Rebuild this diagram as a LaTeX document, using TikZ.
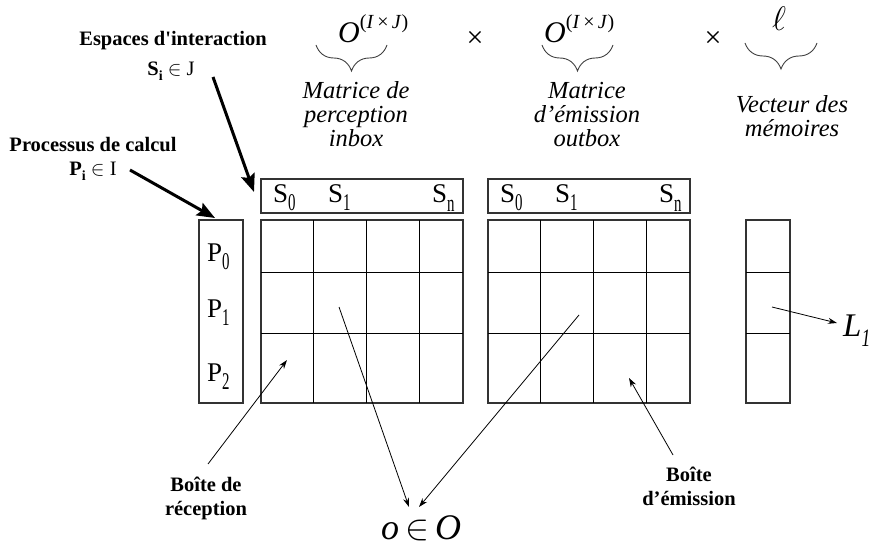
\RequirePackage{fix-cm}
\documentclass[tikz,border=0pt]{standalone}
\usepackage{fontspec}
\setmainfont{Liberation Serif}
\usetikzlibrary{positioning,arrows.meta,calc,decorations.pathreplacing}
% tall, narrow indices as in the matrices
\newcommand{\idx}[2][8pt]{\raisebox{-#1}{\scalebox{0.62}[1]{\fontsize{24}{24}\selectfont #2}}}
\newcommand{\sidx}[1]{\raisebox{-5pt}{\fontsize{14}{14}\selectfont #1}}

\begin{document}
\begin{tikzpicture}[x=1pt,y=-1pt,
    tag/.style={font=\fontsize{20.5}{24}\selectfont\bfseries,inner sep=0pt,anchor=base},
    role/.style={font=\fontsize{24.5}{24}\selectfont\itshape,align=center,inner sep=0pt,anchor=base},
    sym/.style={font=\fontsize{27}{27}\selectfont,inner sep=0pt,anchor=base west},
    big/.style={font=\fontsize{30}{30}\selectfont,inner sep=0pt},
    frame/.style={draw=black!80,line width=1.2pt},
    cell/.style={draw=black,line width=0.9pt},
    fat/.style={line width=3pt,-{Stealth[length=18pt,width=14pt,inset=3pt]}},
    slim/.style={line width=0.8pt,-{Stealth[length=9pt,width=6pt]}},
    curly/.style={draw=black!75,line width=0.9pt,decorate,decoration={brace,mirror,amplitude=26pt}}]
  \useasboundingbox (0,0) rectangle (876,545);
  % product formula on top
  \node[big,anchor=base west] (oin) at (338,43) {\textit{O}\raisebox{14pt}{\fontsize{20}{20}\selectfont(\textit{I}\,×\,\textit{J})}};
  \node[big] (x1) at (475,39) {×};
  \node[big,anchor=base west] (oout) at (544,43) {\textit{O}\raisebox{14pt}{\fontsize{20}{20}\selectfont(\textit{I}\,×\,\textit{J})}};
  \node[big] (x2) at (713,39) {×};
  \node[big] (ell) at (779,19) {\fontsize{34}{34}\selectfont$\ell$};
  \draw[curly] (316,45) -- (387,45);
  \draw[curly] (542,45) -- (613,45);
  \draw[curly] (745,43) -- (817,43);
  % (base = last line)
  \node[role] (inlbl) at (356,147) {Matrice de\\perception\\inbox};
  \node[role] (outlbl) at (587,147) {Matrice\\d’émission\\outbox};
  \node[role] (memlbl) at (792,137) {Vecteur des\\mémoires};
  % left-hand labels
  \node[tag] (espaces) at (173,46) {Espaces d\textquotesingle interaction};
  \node[tag] (si) at (171,76) {S\sidx{i} $\in$ \mdseries J};
  \node[tag] (proc) at (93,152) {Processus de calcul};
  \node[tag] (pi) at (93,176) {P\sidx{i} $\in$ \mdseries I};
  % process column
  \draw[frame] (199,220) rectangle (243,403);
  \foreach \r/\y in {0/262,1/318,2/382}
    \node[sym] (p\r) at (207,\y) {P\idx{\r}};
  % inbox and outbox: header strip and 3x4 grid
  \foreach \x/\nm in {261/in,488/out} {
    \draw[frame] (\x,179) rectangle ++(202,34);
    \draw[frame] (\x,220) rectangle ++(202,183);
    \foreach \c in {52,105,158}
      \draw[cell] (\x+\c,220) -- (\x+\c,403);
    \foreach \r in {272,333}
      \draw[cell] (\x,\r) -- (\x+202,\r);
    \node[sym] (\nm-s0) at (\x+12,203) {S\idx{0}};
    \node[sym] (\nm-s1) at (\x+67,203) {S\idx{1}};
    \node[sym] (\nm-sn) at (\x+171,203) {S\idx[9pt]{n}};
  }
  % memory vector
  \draw[frame] (746,220) rectangle (790,403);
  \foreach \r in {272,333}
    \draw[cell] (746,\r) -- (790,\r);
  \node[big,anchor=base west] (l1) at (843,337) {\fontsize{33}{33}\selectfont\textit{L}\raisebox{-10pt}{\scalebox{0.7}[1]{\fontsize{25}{25}\selectfont\textit{1}}}};
  % bottom labels
  \node[tag,align=center] (recep) at (206,515) {Boîte de\\réception};
  \node[tag,align=center] (emis) at (689,505) {Boîte\\d’émission};
  \node[big,anchor=base] (obj) at (421,539) {\fontsize{36}{36}\selectfont\textit{o}\,$\in$\,\textit{O}};
  % pointers
  \coordinate (siTail) at (213,77);
  \coordinate (headS) at (254,192);
  \coordinate (piTail) at (130,170);
  \coordinate (headP) at (215,218);
  \coordinate (recepTail) at (208,464);
  \coordinate (in-p2) at (287,360);
  \coordinate (in-mid) at (339,307);
  \coordinate (out-mid) at (579,315);
  \coordinate (emisTail) at (673,455);
  \coordinate (out-p2) at (629,378);
  \coordinate (mem-1) at (772,307);
  \coordinate (l1Head) at (837,323);
  \coordinate (objL) at (409,507);
  \coordinate (objR) at (419,507);
  \draw[fat] (siTail) -- (headS);
  \draw[fat] (piTail) -- (headP);
  \draw[slim] (recepTail) -- (in-p2);
  \draw[slim] (in-mid) -- (objL);
  \draw[slim] (out-mid) -- (objR);
  \draw[slim] (emisTail) -- (out-p2);
  \draw[slim] (mem-1) -- (l1Head);
\end{tikzpicture}
\end{document}
